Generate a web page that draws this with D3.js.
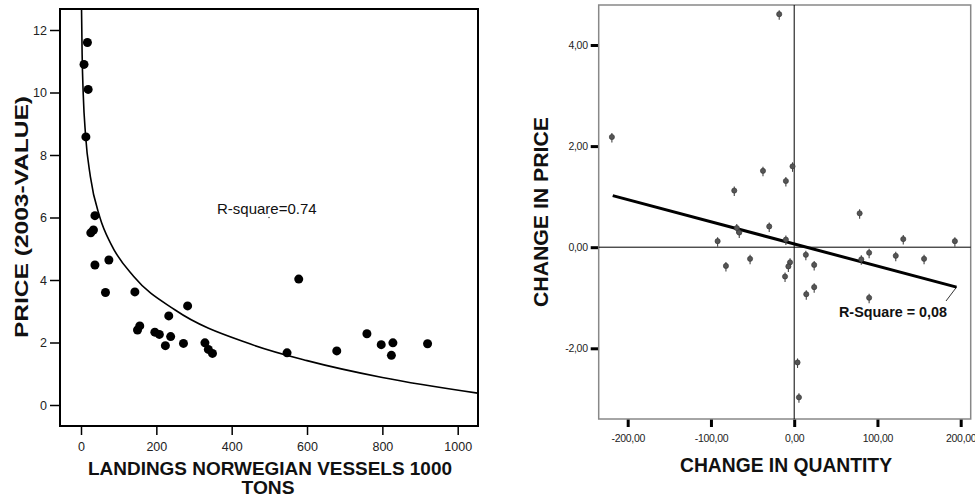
<!DOCTYPE html>
<html>
<head>
<meta charset="utf-8">
<script src="https://cdn.jsdelivr.net/npm/d3@7"></script>
<style>
  body { margin: 0; background: #fff; }
  svg { display: block; font-family: "Liberation Sans", Arial, sans-serif; }
</style>
</head>
<body>
<svg id="chart" width="975" height="500"></svg>
<script>
// --- left panel: landings vs price ---
const landings = [8, 17, 19, 13, 37, 26, 33, 37, 74, 65, 143, 156, 150, 196, 208, 224, 238, 233, 283, 272, 329, 338, 349, 578, 547, 679, 759, 797, 828, 824, 920];
const prices   = [10.9, 11.6, 10.1, 8.58, 6.06, 5.51, 5.6, 4.48, 4.64, 3.6, 3.62, 2.53, 2.4, 2.33, 2.26, 1.9, 2.19, 2.85, 3.17, 1.97, 1.99, 1.78, 1.65, 4.03, 1.67, 1.73, 2.28, 1.93, 1.99, 1.59, 1.96];
// fitted (logarithmic) curve
const fitX = [1.3, 3, 6, 12, 25, 50, 80, 140, 250, 450, 600, 800, 1053];
const fitY = [12.77, 11.22, 9.93, 8.65, 7.30, 6.01, 5.14, 4.11, 3.04, 1.95, 1.42, 0.88, 0.38];
const leftXTicks = [0, 200, 400, 600, 800, 1000];
const leftYTicks = [0, 2, 4, 6, 8, 10, 12];

// --- right panel: change in quantity vs change in price ---
const dQuantity = [-219, -72, -92, -69, -66, -18, -37.5, -2, -10, 78.6, -30, -10, 131, 193, -82, -53, -5, -7, -11, 14, 24, 14.5, 24, 90, 80.6, 122, 156, 90, 4, 5.7];
const dPrice    = [2.18, 1.12, 0.12, 0.38, 0.29, 4.61, 1.51, 1.60, 1.31, 0.67, 0.41, 0.15, 0.16, 0.12, -0.37, -0.23, -0.30, -0.38, -0.58, -0.15, -0.35, -0.93, -0.79, -0.11, -0.24, -0.17, -0.23, -1.0, -2.28, -2.97];
const regX = [-218, 195];
const regY = [1.02, -0.79];
const rightXTicks = [-200, -100, 0, 100, 200];
const rightYTicks = [-2, 0, 2, 4];

const svg = d3.select("#chart");

function title(sel, len, size) {
  return sel
    .attr("text-anchor", "middle")
    .attr("textLength", len)
    .attr("lengthAdjust", "spacingAndGlyphs")
    .style("font-size", size + "px").style("font-weight", "bold")
    .attr("fill", "#111");
}

// ================= LEFT =================
const L = { left: 60, right: 478, top: 9, bottom: 426 };
const xL = d3.scaleLinear().domain([0, 1000]).range([81, 457.7]);
const yL = d3.scaleLinear().domain([0, 12]).range([405, 30]);

svg.append("clipPath").attr("id", "clipL")
  .append("rect")
  .attr("x", L.left).attr("y", L.top)
  .attr("width", L.right - L.left).attr("height", L.bottom - L.top);

const gLy = svg.append("g")
  .attr("transform", `translate(${L.left},0)`)
  .call(d3.axisLeft(yL).tickValues(leftYTicks).tickFormat(d3.format("d")).tickSize(10).tickPadding(3));
const gLx = svg.append("g")
  .attr("transform", `translate(0,${L.bottom})`)
  .call(d3.axisBottom(xL).tickValues(leftXTicks).tickFormat(d3.format("d")).tickSize(9).tickPadding(7));
[gLy, gLx].forEach(g => {
  g.select(".domain").remove();
  g.selectAll(".tick line").attr("stroke", "#000").attr("stroke-width", 1.5);
  g.selectAll(".tick text")
    .attr("fill", "#222")
    .style("font-size", "12.5px")
    .style("font-family", "Liberation Sans, Arial, sans-serif");
});

svg.append("rect")
  .attr("x", L.left).attr("y", L.top)
  .attr("width", L.right - L.left).attr("height", L.bottom - L.top)
  .attr("fill", "none").attr("stroke", "#000").attr("stroke-width", 2);

const fitPts = fitX.map((x, i) => [x, fitY[i]]);
svg.append("path")
  .datum(fitPts)
  .attr("clip-path", "url(#clipL)")
  .attr("fill", "none").attr("stroke", "#000").attr("stroke-width", 1.6)
  .attr("d", d3.line().x(d => xL(d[0])).y(d => yL(d[1])).curve(d3.curveMonotoneX));

svg.append("g")
  .selectAll("circle")
  .data(landings.map((x, i) => [x, prices[i]]))
  .join("circle")
  .attr("cx", d => xL(d[0]))
  .attr("cy", d => yL(d[1]))
  .attr("r", 4.5)
  .attr("fill", "#000");

svg.append("text")
  .attr("x", 217).attr("y", 214)
  .style("font-size", "15px")
  .attr("fill", "#111")
  .text("R-square=0.74");
svg.append("circle").attr("cx", 269).attr("cy", 217.5).attr("r", 0.7).attr("fill", "#333");

svg.append("text")
  .attr("transform", "translate(28,217) rotate(-90)")
  .call(title, 242, 18.5)
  .text("PRICE (2003-VALUE)");

svg.append("text")
  .attr("x", 270).attr("y", 475)
  .call(title, 364, 18.5)
  .text("LANDINGS NORWEGIAN VESSELS 1000");
svg.append("text")
  .attr("x", 268).attr("y", 494)
  .call(title, 53, 18.5)
  .text("TONS");

// ================= RIGHT =================
const R = { left: 598.7, right: 970.7, top: 5, bottom: 419 };
const xR = d3.scaleLinear().domain([-200, 200]).range([627.7, 960.7]);
const yR = d3.scaleLinear().domain([-2, 4]).range([348.3, 45]);
const commaFmt = v => v.toFixed(2).replace(".", ",");

const gRy = svg.append("g")
  .attr("transform", `translate(${R.left},0)`)
  .call(d3.axisLeft(yR).tickValues(rightYTicks).tickFormat(commaFmt).tickSize(8).tickPadding(3));
const gRx = svg.append("g")
  .attr("transform", `translate(0,${R.bottom})`)
  .call(d3.axisBottom(xR).tickValues(rightXTicks).tickFormat(commaFmt).tickSize(8).tickPadding(8));
[gRy, gRx].forEach(g => {
  g.select(".domain").remove();
  g.selectAll(".tick line").attr("stroke", "#000").attr("stroke-width", 3);
  g.selectAll(".tick text")
    .attr("fill", "#222")
    .style("font-size", "10.5px")
    .style("letter-spacing", "-0.3px")
    .style("font-family", "Liberation Sans, Arial, sans-serif");
});

svg.append("rect")
  .attr("x", R.left).attr("y", R.top)
  .attr("width", R.right - R.left).attr("height", R.bottom - R.top)
  .attr("fill", "none").attr("stroke", "#888").attr("stroke-width", 1.5);

// reference lines at zero
svg.append("line")
  .attr("x1", xR(0)).attr("x2", xR(0))
  .attr("y1", R.top).attr("y2", R.bottom)
  .attr("stroke", "#000").attr("stroke-width", 1);
svg.append("line")
  .attr("x1", R.left).attr("x2", R.right)
  .attr("y1", yR(0)).attr("y2", yR(0))
  .attr("stroke", "#000").attr("stroke-width", 1);

// regression line
svg.append("line")
  .attr("x1", xR(regX[0])).attr("y1", yR(regY[0]))
  .attr("x2", xR(regX[1])).attr("y2", yR(regY[1]))
  .attr("stroke", "#000").attr("stroke-width", 3);

const marks = svg.append("g")
  .selectAll("g")
  .data(dQuantity.map((x, i) => [x, dPrice[i]]))
  .join("g")
  .attr("transform", d => `translate(${xR(d[0])},${yR(d[1])})`);
marks.append("line")
  .attr("y1", -4).attr("y2", 5.5)
  .attr("stroke", "#444").attr("stroke-width", 1.1);
marks.append("circle")
  .attr("r", 2.6)
  .attr("fill", "#555").attr("stroke", "#333").attr("stroke-width", 0.6);

// R-square label with leader
svg.append("line")
  .attr("x1", 946).attr("y1", 301)
  .attr("x2", xR(regX[1])).attr("y2", yR(regY[1]))
  .attr("stroke", "#000").attr("stroke-width", 0.8);
svg.append("text")
  .attr("x", 839).attr("y", 317)
  .attr("textLength", 108)
  .attr("lengthAdjust", "spacingAndGlyphs")
  .style("font-size", "14.5px").style("font-weight", "bold")
  .attr("fill", "#111")
  .text("R-Square = 0,08");

svg.append("text")
  .attr("transform", "translate(548,212) rotate(-90)")
  .call(title, 190, 21)
  .text("CHANGE IN PRICE");

svg.append("text")
  .attr("x", 786).attr("y", 471.5)
  .call(title, 212, 21)
  .text("CHANGE IN QUANTITY");
</script>
</body>
</html>
